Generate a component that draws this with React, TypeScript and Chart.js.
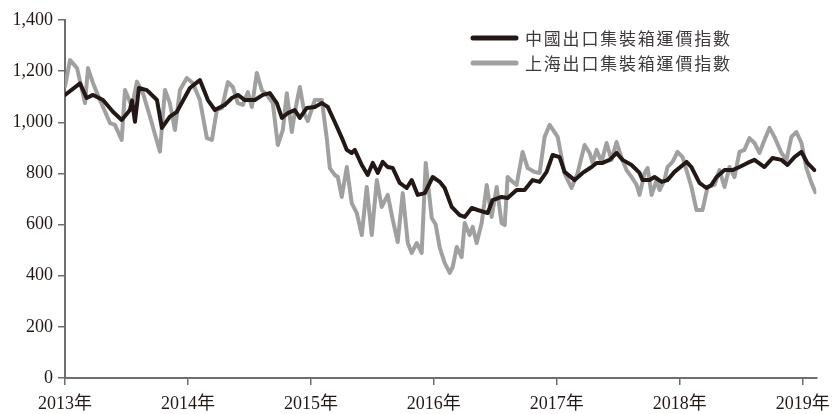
import React, { useEffect, useRef } from 'react';
import { Chart, registerables } from 'chart.js';

Chart.register(...registerables);

// 中國出口集裝箱運價指數 (CCFI): time in decimal years, index values
const CCFI_T = [
  2013.0, 2013.122, 2013.176, 2013.228, 2013.309, 2013.39, 2013.461, 2013.528, 2013.545, 2013.569,
  2013.601, 2013.666, 2013.748, 2013.788, 2013.853, 2013.91, 2014.016, 2014.097, 2014.162, 2014.219,
  2014.3, 2014.357, 2014.406, 2014.463, 2014.544, 2014.609, 2014.666, 2014.723, 2014.764, 2014.812,
  2014.869, 2014.91, 2014.967, 2015.032, 2015.089, 2015.137, 2015.194, 2015.259, 2015.292, 2015.332,
  2015.357, 2015.414, 2015.462, 2015.503, 2015.544, 2015.584, 2015.625, 2015.666, 2015.722, 2015.779,
  2015.82, 2015.869, 2015.926, 2015.991, 2016.048, 2016.088, 2016.145, 2016.21, 2016.251, 2016.308,
  2016.356, 2016.438, 2016.478, 2016.551, 2016.6, 2016.673, 2016.738, 2016.803, 2016.86, 2016.917,
  2016.966, 2017.023, 2017.063, 2017.145, 2017.21, 2017.283, 2017.324, 2017.372, 2017.429, 2017.486,
  2017.535, 2017.608, 2017.673, 2017.697, 2017.754, 2017.795, 2017.852, 2017.9, 2017.957, 2018.055,
  2018.095, 2018.16, 2018.217, 2018.258, 2018.299, 2018.364, 2018.429, 2018.486, 2018.551, 2018.608,
  2018.689, 2018.754, 2018.827, 2018.876, 2018.933, 2018.99, 2019.038, 2019.095,
];
const CCFI_V = [
  1107, 1152, 1095, 1107, 1087, 1041, 1009, 1048, 1085, 1002,
  1134, 1126, 1087, 978, 1022, 1041, 1134, 1165, 1087, 1048,
  1068, 1095, 1107, 1087, 1087, 1107, 1114, 1075, 1017, 1036,
  1048, 1017, 1056, 1060, 1075, 1060, 1001, 931, 892, 880,
  892, 833, 794, 841, 802, 845, 825, 821, 763, 743,
  774, 716, 723, 786, 767, 743, 669, 637, 630, 665,
  657, 645, 696, 708, 704, 735, 735, 774, 767, 806,
  872, 864, 806, 774, 802, 825, 841, 841, 853, 880,
  853, 833, 802, 774, 774, 786, 767, 774, 806, 845,
  825, 763, 743, 755, 786, 813, 813, 825, 841, 853,
  825, 860, 853, 833, 864, 884, 841, 813,
];

// 上海出口集裝箱運價指數 (SCFI)
const SCFI_T = [
  2013.0, 2013.041, 2013.098, 2013.163, 2013.187, 2013.228, 2013.284, 2013.366, 2013.406, 2013.461,
  2013.488, 2013.545, 2013.585, 2013.634, 2013.691, 2013.772, 2013.813, 2013.853, 2013.894, 2013.935,
  2013.991, 2014.04, 2014.097, 2014.154, 2014.195, 2014.235, 2014.276, 2014.325, 2014.365, 2014.406,
  2014.447, 2014.487, 2014.52, 2014.56, 2014.601, 2014.642, 2014.69, 2014.731, 2014.772, 2014.804,
  2014.845, 2014.869, 2014.91, 2014.95, 2014.975, 2015.032, 2015.089, 2015.129, 2015.154, 2015.194,
  2015.219, 2015.251, 2015.292, 2015.332, 2015.373, 2015.414, 2015.454, 2015.495, 2015.536, 2015.576,
  2015.625, 2015.666, 2015.706, 2015.747, 2015.788, 2015.82, 2015.861, 2015.901, 2015.934, 2015.983,
  2016.015, 2016.048, 2016.088, 2016.129, 2016.153, 2016.186, 2016.226, 2016.251, 2016.291, 2016.316,
  2016.348, 2016.389, 2016.43, 2016.47, 2016.511, 2016.551, 2016.576, 2016.6, 2016.641, 2016.673,
  2016.722, 2016.763, 2016.82, 2016.86, 2016.901, 2016.942, 2017.007, 2017.063, 2017.12, 2017.169,
  2017.226, 2017.267, 2017.291, 2017.324, 2017.364, 2017.405, 2017.445, 2017.486, 2017.527, 2017.567,
  2017.608, 2017.649, 2017.673, 2017.714, 2017.738, 2017.771, 2017.811, 2017.836, 2017.876, 2017.9,
  2017.941, 2017.982, 2018.023, 2018.095, 2018.136, 2018.185, 2018.226, 2018.283, 2018.323, 2018.364,
  2018.404, 2018.445, 2018.486, 2018.526, 2018.567, 2018.608, 2018.648, 2018.689, 2018.73, 2018.77,
  2018.827, 2018.868, 2018.908, 2018.949, 2018.99, 2019.03, 2019.071, 2019.103,
];
const SCFI_V = [
  1140, 1243, 1212, 1075, 1212, 1153, 1087, 997, 990, 931,
  1126, 1061, 1159, 1114, 1022, 885, 1126, 1075, 970, 1126,
  1173, 1153, 1087, 938, 931, 1048, 1056, 1157, 1138, 1075,
  1068, 1118, 1060, 1193, 1126, 1107, 1075, 911, 970, 1114,
  962, 1040, 1138, 1029, 1005, 1087, 1087, 938, 821, 794,
  786, 708, 825, 684, 645, 559, 747, 559, 774, 669,
  716, 618, 532, 723, 528, 489, 528, 489, 841, 626,
  600, 510, 450, 411, 434, 512, 473, 606, 559, 591,
  528, 606, 755, 630, 747, 606, 598, 786, 767, 755,
  884, 821, 806, 802, 943, 990, 943, 800, 743, 802,
  911, 880, 841, 892, 845, 919, 853, 923, 860, 813,
  786, 755, 716, 802, 821, 716, 774, 735, 774, 825,
  845, 884, 864, 747, 657, 657, 747, 755, 813, 747,
  825, 786, 884, 892, 938, 919, 880, 931, 978, 943,
  880, 853, 943, 962, 919, 821, 763, 727,
];

const SERIES_NAMES = ['中國出口集裝箱運價指數', '上海出口集裝箱運價指數'];
const YEAR_TICKS = [2013, 2014, 2015, 2016, 2017, 2018, 2019];
const Y_TICKS = [0, 200, 400, 600, 800, 1000, 1200, 1400];

const AXIS_COLOR = '#6e6e6e';
const TEXT_COLOR = '#231815';
const FONT_FAMILY = '"Liberation Serif", "Noto Sans CJK TC", serif';

const cornerLegend = {
  id: 'cornerLegend',
  afterDraw(chart: any) {
    const ctx = chart.ctx as CanvasRenderingContext2D;
    ctx.save();
    chart.data.datasets.forEach((ds: any, i: number) => {
      const y = 38 + i * 25;
      ctx.strokeStyle = ds.borderColor;
      ctx.lineWidth = 5;
      ctx.lineCap = 'round';
      ctx.beginPath();
      ctx.moveTo(473, y);
      ctx.lineTo(516, y);
      ctx.stroke();
      ctx.fillStyle = '#3e3a39';
      ctx.font = '17px "Noto Sans CJK TC", "Noto Sans CJK SC", sans-serif';
      (ctx as any).letterSpacing = '1.8px';
      ctx.textBaseline = 'middle';
      ctx.textAlign = 'left';
      ctx.fillText(ds.label, 525, y + 1);
    });
    ctx.restore();
  },
};

export default function App() {
  const ref = useRef<HTMLCanvasElement | null>(null);

  useEffect(() => {
    document.body.style.margin = '0';
    if (!ref.current) return;
    const chart = new Chart(ref.current, {
      type: 'line',
      data: {
        datasets: [
          {
            label: SERIES_NAMES[0],
            data: CCFI_T.map((t, i) => ({ x: t, y: CCFI_V[i] })),
            borderColor: '#231815',
            borderWidth: 4,
            pointRadius: 0,
            tension: 0,
            borderJoinStyle: 'round',
            borderCapStyle: 'round',
          },
          {
            label: SERIES_NAMES[1],
            data: SCFI_T.map((t, i) => ({ x: t, y: SCFI_V[i] })),
            borderColor: '#a0a0a0',
            borderWidth: 4,
            pointRadius: 0,
            tension: 0,
            borderJoinStyle: 'round',
            borderCapStyle: 'round',
          },
        ],
      },
      options: {
        animation: false,
        responsive: false,
        maintainAspectRatio: false,
        layout: { padding: { top: 20, right: 16, left: 0, bottom: 0 } },
        plugins: { legend: { display: false }, tooltip: { enabled: false } },
        scales: {
          x: {
            type: 'linear',
            min: 2013,
            max: 2019.111,
            afterBuildTicks: (s: any) => {
              s.ticks = YEAR_TICKS.map((v) => ({ value: v }));
            },
            afterFit: (s: any) => {
              s.height = 36;
            },
            ticks: {
              callback: (v: any) => `${v}年`,
              font: { family: FONT_FAMILY, size: 18, lineHeight: 1.85 },
              color: TEXT_COLOR,
              padding: 3,
              maxRotation: 0,
              autoSkip: false,
            },
            grid: { drawOnChartArea: false, tickLength: 7, color: AXIS_COLOR, lineWidth: 1.5 },
            border: { color: AXIS_COLOR, width: 2 },
          },
          y: {
            min: 0,
            max: 1400,
            afterBuildTicks: (s: any) => {
              s.ticks = Y_TICKS.map((v) => ({ value: v }));
            },
            afterFit: (s: any) => {
              s.width = 65;
            },
            ticks: {
              callback: (v: any) => Number(v).toLocaleString('en-US'),
              font: { family: FONT_FAMILY, size: 18 },
              color: TEXT_COLOR,
              padding: 5,
            },
            grid: { drawOnChartArea: false, tickLength: 7, color: AXIS_COLOR, lineWidth: 1.5 },
            border: { color: AXIS_COLOR, width: 2 },
          },
        },
      },
      plugins: [cornerLegend],
    });
    return () => chart.destroy();
  }, []);

  return <canvas ref={ref} width={833} height={414} style={{ display: 'block' }} />;
}
